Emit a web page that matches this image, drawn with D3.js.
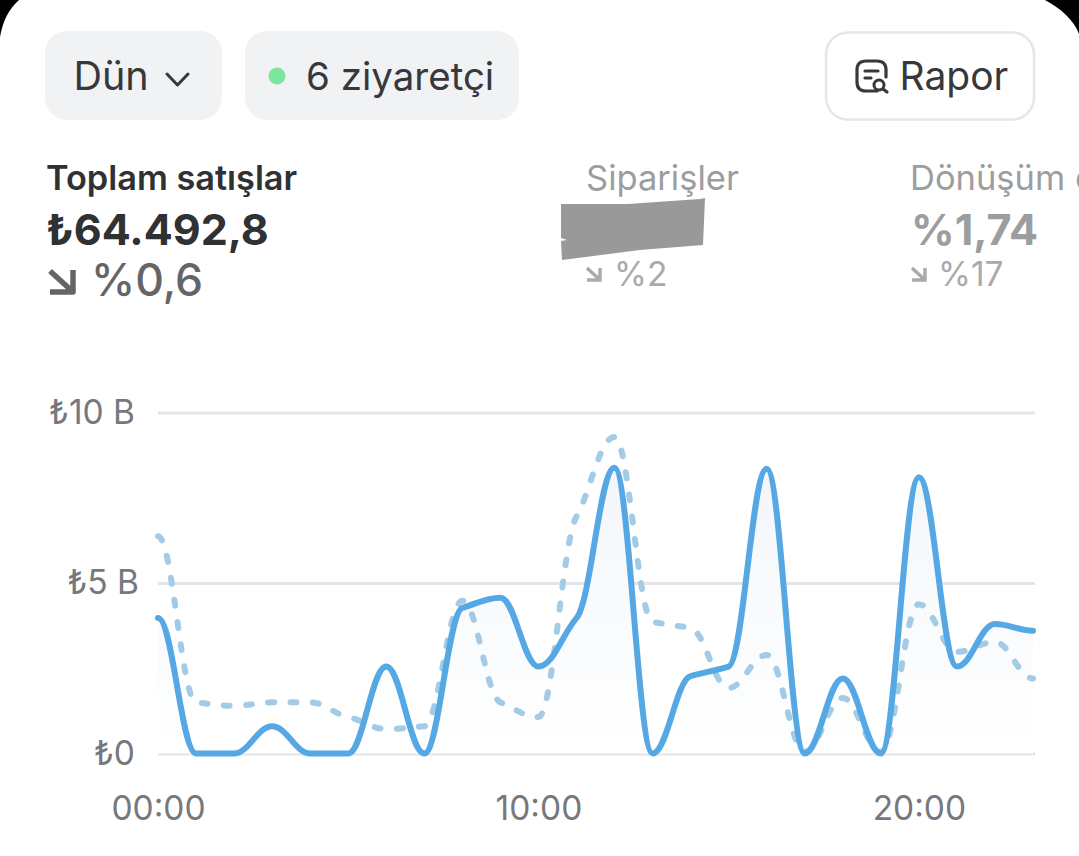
<!DOCTYPE html>
<html><head><meta charset="utf-8">
<script src="https://cdn.jsdelivr.net/npm/d3@7"></script>
<style>
html,body{margin:0;padding:0;background:#fff;overflow:hidden}
svg{display:block;font-family:Inter,"Noto Sans",sans-serif}
.axis path{display:none}
.axis .tick line{stroke:#e4e5e7;stroke-width:3}
.axis text{fill:#76787d;font-size:33.5px;font-family:Inter,"Noto Sans",sans-serif}
</style></head><body>
<svg id="c" width="1079" height="856" viewBox="0 0 1079 856"></svg>
<script>
const hours = d3.range(0,24);
const currentDay = [3.97,0,0,0.8,0,0,2.55,0,4.27,4.57,2.55,3.97,8.38,0,2.27,2.55,8.35,0,2.2,0,8.1,2.55,3.8,3.6];
const previousDay = [6.37,1.5,1.4,1.5,1.5,1.07,0.72,0.8,4.48,1.5,1.07,6.95,9.28,3.86,3.68,1.92,2.89,0.05,1.63,0.05,4.38,2.98,3.27,2.2];
const yTicks = [0,5,10];
const yTickLabels = ["₺0","₺5 B","₺10 B"];
const xTicks = [0,10,20];
const xTickLabels = ["00:00","10:00","20:00"];

const svg = d3.select("#c");
const x = d3.scaleLinear().domain([0,23]).range([158,1033]);
const y = d3.scaleLinear().domain([0,10]).range([753.5,412.5]);

// Flat-ended monotone curve with softened tangents (kinked shoulders, round peaks)
function softMonotone(ctx){
  let pts=[], inArea=false;
  return {
    areaStart(){inArea=true;},
    areaEnd(){ctx.closePath();inArea=false;},
    lineStart(){pts=[];},
    point(px,py){pts.push([+px,+py]);},
    lineEnd(){
      const n=pts.length, m=new Array(n).fill(0);
      for(let i=1;i<n-1;i++){
        const s0=(pts[i][1]-pts[i-1][1])/(pts[i][0]-pts[i-1][0]);
        const s1=(pts[i+1][1]-pts[i][1])/(pts[i+1][0]-pts[i][0]);
        m[i]=s0*s1<=0?0:0.6*2*s0*s1/(s0+s1);
      }
      if(inArea&&this._started) ctx.lineTo(pts[0][0],pts[0][1]); else ctx.moveTo(pts[0][0],pts[0][1]);
      this._started=true;
      for(let i=0;i<n-1;i++){
        const h=(pts[i+1][0]-pts[i][0])/2.6;
        ctx.bezierCurveTo(pts[i][0]+h,pts[i][1]+m[i]*h,pts[i+1][0]-h,pts[i+1][1]-m[i+1]*h,pts[i+1][0],pts[i+1][1]);
      }
    }
  };
}

// screen corners
svg.append("rect").attr("width",1079).attr("height",856).attr("fill","#000");
svg.append("path").attr("fill","#fff")
 .attr("d","M0,37 C3,20 9,9 19,0 L1045,0 C1060,8 1074,20 1079,34 L1079,856 L0,856 Z");

const defs = svg.append("defs");
const g = defs.append("linearGradient").attr("id","fade").attr("x1",0).attr("x2",0).attr("y1",0).attr("y2",1);
g.append("stop").attr("offset","0%").attr("stop-color","#f3f6f9");
g.append("stop").attr("offset","100%").attr("stop-color","#ffffff");

// axes
const yAxis = svg.append("g").attr("class","axis").attr("transform","translate(158,0)")
 .call(d3.axisLeft(y).tickValues(yTicks).tickSize(-877).tickPadding(23).tickFormat((d,i)=>yTickLabels[i]));
yAxis.selectAll(".tick text").filter(d=>d===5).attr("dx",4);
const xAxis = svg.append("g").attr("class","axis").attr("transform","translate(0,753.5)")
 .call(d3.axisBottom(x).tickValues(xTicks).tickSize(0).tickPadding(43).tickFormat((d,i)=>xTickLabels[i]));

const curve = softMonotone;
svg.append("path").datum(currentDay).attr("fill","url(#fade)")
 .attr("d",d3.area().x((d,i)=>x(hours[i])).y0(y(0)).y1(d=>y(d)).curve(curve));
svg.append("path").datum(previousDay).attr("fill","none").attr("stroke","#a3cbe6").attr("stroke-width",6)
 .attr("stroke-linecap","round").attr("stroke-dasharray","6 16.3")
 .attr("d",d3.line().x((d,i)=>x(hours[i])).y(d=>y(d)).curve(curve));
svg.append("path").datum(currentDay).attr("fill","none").attr("stroke","#55a8e4").attr("stroke-width",6)
 .attr("stroke-linecap","round").attr("stroke-linejoin","round")
 .attr("d",d3.line().x((d,i)=>x(hours[i])).y(d=>y(d)).curve(curve));

// header controls
function t(s,xp,yp,size,weight,fill){return svg.append("text").attr("x",xp).attr("y",yp).attr("font-size",size).attr("font-weight",weight).attr("fill",fill).text(s);}
svg.append("rect").attr("x",45).attr("y",31).attr("width",177).attr("height",89).attr("rx",22).attr("fill","#f1f2f4");
svg.append("rect").attr("x",245).attr("y",31).attr("width",274).attr("height",89).attr("rx",22).attr("fill","#f1f2f4");
svg.append("rect").attr("x",826).attr("y",32.5).attr("width",208).attr("height",87).attr("rx",22).attr("fill","#fff").attr("stroke","#e6e6e8").attr("stroke-width",2.5);
t("Dün",73.5,90,39.5,400,"#36383c");
svg.append("path").attr("d","M167,74 L177.5,85 L188,74").attr("fill","none").attr("stroke","#36383c").attr("stroke-width",3).attr("stroke-linecap","round").attr("stroke-linejoin","round");
svg.append("circle").attr("cx",277).attr("cy",76).attr("r",8.5).attr("fill","#7de69d");
t("6 ziyaretçi",306,90,38.5,400,"#36383c");
t("Rapor",899.5,90,39,400,"#36383c");
svg.append("path").attr("fill","none").attr("stroke","#36383c").attr("stroke-width",3.2).attr("stroke-linecap","round")
 .attr("d","M877,91 L866,91 Q857,91 857,82 L857,70 Q857,61 866,61 L877,61 Q886,61 886,70 L886,77 M865,71 L878,71 M865,78 L871,78");
svg.append("circle").attr("cx",879).attr("cy",85).attr("r",5).attr("fill","#fff").attr("stroke","#36383c").attr("stroke-width",3);
svg.append("path").attr("d","M883,89 L887,92").attr("stroke","#36383c").attr("stroke-width",3.2).attr("stroke-linecap","round");

// metrics
t("Toplam satışlar",46,190,34.3,600,"#2f3133");
t("₺64.492,8",46,245,43,700,"#2f3133");
svg.append("path").attr("fill","none").attr("stroke","#646567").attr("stroke-width",5.5).attr("stroke-linejoin","round")
 .attr("d","M50,271 L72,291 M50,292 L73,292 L73,270");
t("%0,6",91,296,44.5,500,"#646567");

t("Siparişler",586,190,34.5,400,"#9c9d9f");
svg.append("path").attr("fill","#999").attr("d","M561,204 L628,204 L700,199 L705,198 L703,245 L640,250 L562,260 L561,241 L567,240 L561,238 Z");
svg.append("path").attr("fill","none").attr("stroke","#a9aaac").attr("stroke-width",3.5)
 .attr("d","M587,268 L600,280 M587,280 L600,280 L600,268");
t("%2",614,286,33.5,400,"#a9aaac");

t("Dönüşüm o",910,190,34.5,400,"#9c9d9f");
t("%1,74",911,245,43,700,"#9c9d9f");
svg.append("path").attr("fill","none").attr("stroke","#a9aaac").attr("stroke-width",3.5)
 .attr("d","M912,268 L925,280 M912,280 L925,280 L925,268");
t("%17",938,286,33.5,400,"#a9aaac");
</script>
</body></html>
